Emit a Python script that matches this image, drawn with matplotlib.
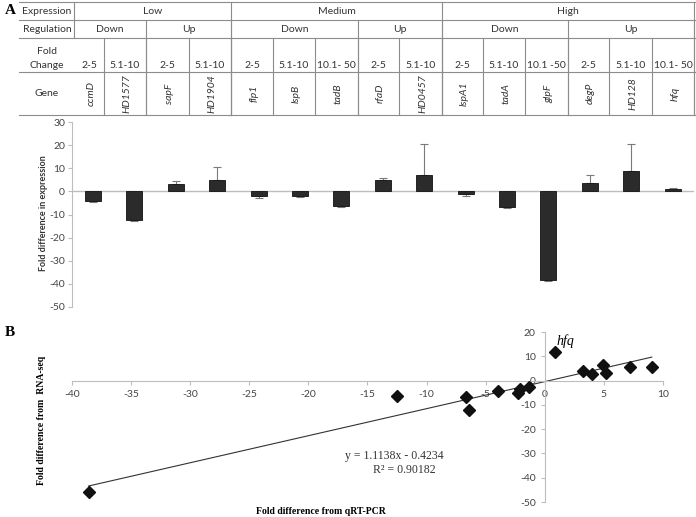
import numpy as np
import matplotlib
matplotlib.use("Agg")
import matplotlib.pyplot as plt

plt.rcParams["axes.unicode_minus"] = False

# data
genes = ["ccmD", "HD1577", "sapF", "HD1904", "flp1", "lspB", "tadB", "rfaD",
         "HD0457", "lspA1", "tadA", "glpF", "degP", "HD128", "hfq"]
fold_change = ["2-5", "5.1-10", "2-5", "5.1-10", "2-5", "5.1-10", "10.1- 50",
               "2-5", "5.1-10", "2-5", "5.1-10", "10.1 -50", "2-5", "5.1-10",
               "10.1- 50"]
expression = [("Low", 0, 3), ("Medium", 4, 8), ("High", 9, 14)]
regulation = [("Down", 0, 1), ("Up", 2, 3), ("Down", 4, 6), ("Up", 7, 8),
              ("Down", 9, 11), ("Up", 12, 14)]

qpcr = [-4.2, -12.5, 3.0, 5.0, -2.0, -2.0, -6.5, 5.0, 7.0, -1.0, -6.7, -38.5,
        3.7, 9.0, 1.0]
qpcr_err = [0.3, 0.3, 1.5, 5.5, 1.0, 0.5, 0.3, 1.0, 13.5, 0.8, 0.3, 0.3,
            3.3, 11.5, 0.4]

scatter_x = [-38.6, -12.5, -6.7, -6.4, -4.0, -2.3, -2.1, -1.3, 0.9, 3.2, 4.0,
             4.9, 5.2, 7.2, 9.05]
scatter_y = [-46.0, -6.5, -6.6, -12.2, -4.3, -5.2, -3.6, -2.5, 11.8, 4.0, 2.8,
             6.5, 3.0, 5.6, 5.7]
slope, intercept = 1.1138, -0.4234

W, H = 696, 517
fig = plt.figure(figsize=(W / 100, H / 100), dpi=100)

sans = "Lato"
serif = "Liberation Serif"
grey = "#8c8c8c"
txt = "#333333"

# background axes in pixel coords for the table
bg = fig.add_axes([0, 0, 1, 1])
bg.set_xlim(0, W)
bg.set_ylim(H, 0)
bg.axis("off")

bounds = [74, 104, 146, 189, 231, 273, 315, 358, 399, 442, 483, 525, 568,
          609, 652, 694]
rows = [2, 20, 38, 72, 115]
for r in rows:
    bg.plot([19, 696], [r, r], color=grey, lw=0.8)

bg.plot([bounds[0]] * 2, [rows[0], rows[2]], color=grey, lw=0.8)
for name, a, b in expression:
    bg.text((bounds[a] + bounds[b + 1]) / 2, 11.5, name, ha="center",
            va="center", fontsize=7.5, family=sans, color=txt)
    bg.plot([bounds[b + 1]] * 2, [rows[0], rows[4]], color=grey, lw=0.8)
for name, a, b in regulation:
    bg.text((bounds[a] + bounds[b + 1]) / 2, 29.5, name, ha="center",
            va="center", fontsize=7.5, family=sans, color=txt)
    bg.plot([bounds[b + 1]] * 2, [rows[1], rows[4]], color=grey, lw=0.8)
for i in range(len(genes)):
    c = (bounds[i] + bounds[i + 1]) / 2
    if i > 0:
        bg.plot([bounds[i]] * 2, [rows[2], rows[4]], color=grey, lw=0.8)
    bg.text(c, 66, fold_change[i], ha="center", va="center", fontsize=7.5,
            family=sans, color=txt)
    bg.text(c + 2, 93.5, genes[i], ha="center", va="center", fontsize=7.5,
            family=sans, color=txt, style="italic", rotation=90)

bg.text(47, 11.5, "Expression", ha="center", va="center", fontsize=7.5,
        family=sans, color=txt)
bg.text(47, 29.5, "Regulation", ha="center", va="center", fontsize=7.5,
        family=sans, color=txt)
bg.text(47, 52, "Fold", ha="center", va="center", fontsize=7.5,
        family=sans, color=txt)
bg.text(47, 66, "Change", ha="center", va="center", fontsize=7.5,
        family=sans, color=txt)
bg.text(47, 94, "Gene", ha="center", va="center", fontsize=7.5,
        family=sans, color=txt)

bg.text(10, 10, "A", ha="center", va="center", fontsize=11, family=serif,
        weight="bold")
bg.text(10, 333, "B", ha="center", va="center", fontsize=11, family=serif,
        weight="bold")

# panel A bar chart
step = 41.4
x0 = 93
ax = fig.add_axes([72 / W, 1 - 307 / H, 622 / W, 185 / H])
xs = np.arange(len(genes))
ax.set_xlim((72 - x0) / step, (694 - x0) / step)
ax.set_ylim(-50, 30)
ax.axhline(0, color="#bdbdbd", lw=1, zorder=1)
lower = [e if v < 0 else 0 for v, e in zip(qpcr, qpcr_err)]
upper = [e if v >= 0 else 0 for v, e in zip(qpcr, qpcr_err)]
ax.errorbar(xs, qpcr, yerr=[lower, upper], fmt="none", ecolor="#7a7a7a",
            elinewidth=0.8, capsize=3, capthick=0.8, zorder=2)
ax.bar(xs, qpcr, width=0.39, color="#2b2b2b", edgecolor="#111111", lw=0.6,
       zorder=3)
for s in ["top", "right", "bottom"]:
    ax.spines[s].set_visible(False)
ax.spines["left"].set_color("#bdbdbd")
ax.set_xticks([])
ax.set_yticks(range(-50, 31, 10))
ax.tick_params(axis="y", length=3, pad=2, color="#bdbdbd", labelsize=7.5,
               labelcolor="#444444")
for lab in ax.get_yticklabels():
    lab.set_family(sans)
ax.patch.set_alpha(0)
bg.text(43, 213, "Fold difference in expression", rotation=90, ha="center",
        va="center", fontsize=6.5, family=sans, weight="bold", color=txt)

# panel B scatter
sx = fig.add_axes([72 / W, 1 - 502 / H, 591 / W, 170 / H])
sx.set_xlim(-40, 10)
sx.set_ylim(-50, 20)
sx.patch.set_alpha(0)
fx = np.array([min(scatter_x), max(scatter_x)])
sx.plot(fx, slope * fx + intercept, color="#333333", lw=0.8, zorder=2)
sx.plot(scatter_x, scatter_y, "D", color="#111111", ms=6.5, zorder=3)
sx.spines["left"].set_position(("data", 0))
sx.spines["bottom"].set_position(("data", 0))
sx.spines["top"].set_visible(False)
sx.spines["right"].set_visible(False)
sx.spines["left"].set_color("#bdbdbd")
sx.spines["bottom"].set_color("#bdbdbd")
sx.set_xticks(range(-40, 11, 5))
sx.set_yticks(range(-50, 21, 10))
sx.tick_params(length=3, color="#bdbdbd", labelsize=7.5, labelcolor="#444444")
for lab in sx.get_xticklabels() + sx.get_yticklabels():
    lab.set_family(sans)
sx.text(1.0, 13.5, "hfq", fontsize=10, family=serif, style="italic",
        va="bottom", ha="left")
bg.text(394, 456, "y = 1.1138x - 0.4234", ha="center", va="center",
        fontsize=8.5, family=serif, color=txt)
bg.text(404, 470, "R² = 0.90182", ha="center", va="center", fontsize=8.5,
        family=serif, color=txt)
bg.text(321, 511, "Fold difference from qRT-PCR", ha="center", va="center",
        fontsize=7, family=serif, weight="bold")
bg.text(42, 420, "Fold difference from  RNA-seq", rotation=90, ha="center",
        va="center", fontsize=7, family=serif, weight="bold")

fig.savefig("out.png", dpi=100)
